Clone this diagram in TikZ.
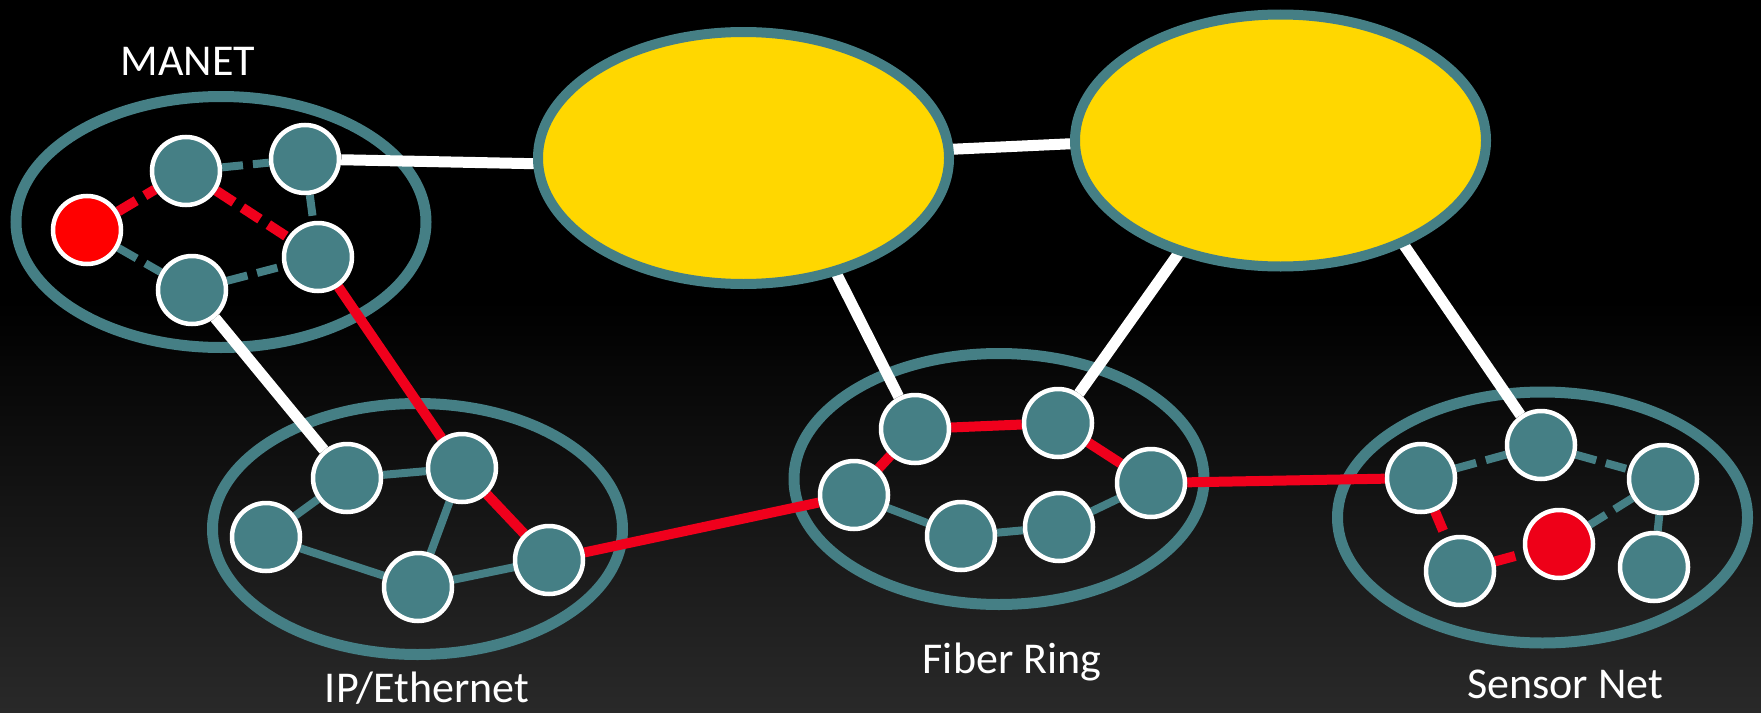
\documentclass[tikz,border=0pt]{standalone}
\usepackage{fontspec}
\setmainfont{Carlito}
\usetikzlibrary{shapes.geometric}
\definecolor{netteal}{RGB}{69,127,133}
\definecolor{coregold}{RGB}{255,215,0}
\definecolor{netred}{RGB}{240,0,28}
\definecolor{nodered}{RGB}{255,0,0}
\definecolor{sensred}{RGB}{238,0,24}
\definecolor{bgbot}{RGB}{41,41,41}
\pgfdeclarelayer{bg}
\pgfdeclarelayer{edges}
\pgfsetlayers{bg,edges,main}
\begin{document}
\begin{tikzpicture}[x=1pt,y=-1pt,
  grp/.style={ellipse, draw=netteal, line width=11pt, minimum width=410pt, minimum height=251pt, inner sep=0pt},
  core/.style={grp, line width=10pt, minimum width=411pt, minimum height=252pt, fill=coregold},
  nd/.style={circle, draw=white, line width=4.5pt, fill=netteal, minimum size=68pt, inner sep=0pt},
  rnd/.style={nd, fill=nodered},
  snd/.style={nd, fill=sensred},
  wl/.style={draw=white, line width=11pt},
  rl/.style={draw=netred, line width=10pt},
  tl/.style={draw=netteal, line width=8pt},
  dsh/.style={dash pattern=on 21pt off 10pt},
  lbl/.style={text=white, font=\fontsize{44}{52}\selectfont, anchor=base, inner sep=0pt}]
\begin{pgfonlayer}{bg}
  \fill[black] (0,0) rectangle (1761,712);
  \shade[top color=black, bottom color=bgbot] (0,300) rectangle (1761,712);
  \useasboundingbox (0,0) rectangle (1761,712);
  \node[grp] (manet) at (221,222) {};
  \node[grp] (ipeth) at (417.5,529) {};
  \node[grp] (fiber) at (999,479) {};
  \node[grp] (sensor) at (1542.5,517.5) {};
\end{pgfonlayer}

% core ellipses
\node[core] (E1) at (743.5,158) {};
\node[core] (E2) at (1280.5,140.5) {};
\coordinate (e1w) at (743,168);
\coordinate (e1e) at (743,159);
\coordinate (e2w) at (1280,134);
\coordinate (e1s) at (778,158);
\coordinate (e2s) at (1259,140);
\coordinate (e2se) at (1332,140);

% MANET
\node[rnd] (mr) at (87,230) {};
\node[nd] (m1) at (186,171) {};
\node[nd] (m2) at (305,159) {};
\node[nd] (m3) at (318,257) {};
\node[nd] (m4) at (192,290) {};
% IP/Ethernet
\node[nd] (p1) at (347,478) {};
\node[nd] (p2) at (462,468) {};
\node[nd] (p3) at (266,537) {};
\node[nd] (p4) at (418,587) {};
\node[nd] (p5) at (549,560) {};
% Fiber Ring
\node[nd] (f1) at (915,429) {};
\node[nd] (f2) at (1058,423) {};
\node[nd] (f3) at (854,495) {};
\node[nd] (f4) at (961,536) {};
\node[nd] (f5) at (1059,527) {};
\node[nd] (f6) at (1151,483) {};
% Sensor Net
\node[nd] (s1) at (1421,478) {};
\node[nd] (s2) at (1541,445) {};
\node[nd] (s3) at (1663,479) {};
\node[nd] (s4) at (1460,571) {};
\node[snd] (sr) at (1559,544) {};
\node[nd] (s5) at (1654,567) {};

% labels
\node[lbl] (lmanet) at (188,75) {MANET};
\node[lbl] (lip) at (427,702) {IP/Ethernet};
\node[lbl] (lfiber) at (1012,673) {Fiber Ring};
\node[lbl] (lsensor) at (1565,698) {Sensor Net};

\begin{pgfonlayer}{edges}
  % white backbone links
  \draw[wl] (m2) -- (e1w);
  \draw[wl] (e1e) -- (e2w);
  \draw[wl] (f1) -- (e1s);
  \draw[wl] (f2) -- (e2s);
  \draw[wl] (s2) -- (e2se);
  \draw[wl] (m4) -- (p1);
  % MANET internal
  \draw[rl,dsh] (mr) -- (m1);
  \draw[rl,dsh] (m1) -- (m3);
  \draw[tl,dsh] (m1) -- (m2);
  \draw[tl,dsh] (m2) -- (m3);
  \draw[tl,dsh] (mr) -- (m4);
  \draw[tl,dsh] (m4) -- (m3);
  % red path
  \draw[rl] (m3) -- (p2);
  \draw[rl] (p2) -- (p5);
  \draw[rl] (p5) -- (f3);
  \draw[rl] (f3) -- (f1);
  \draw[rl] (f1) -- (f2);
  \draw[rl] (f2) -- (f6);
  \draw[rl] (f6) -- (s1);
  % IP internal
  \draw[tl] (p3) -- (p1);
  \draw[tl] (p1) -- (p2);
  \draw[tl] (p3) -- (p4);
  \draw[tl] (p4) -- (p2);
  \draw[tl] (p4) -- (p5);
  % Fiber internal
  \draw[tl] (f3) -- (f4);
  \draw[tl] (f4) -- (f5);
  \draw[tl] (f5) -- (f6);
  % Sensor internal
  \draw[tl,dsh] (s1) -- (s2);
  \draw[tl,dsh] (s2) -- (s3);
  \draw[tl,dsh] (s3) -- (sr);
  \draw[tl,dsh] (s3) -- (s5);
  \draw[rl,dsh] (s1) -- (s4);
  \draw[rl,dsh] (s4) -- (sr);
\end{pgfonlayer}
\end{tikzpicture}
\end{document}
